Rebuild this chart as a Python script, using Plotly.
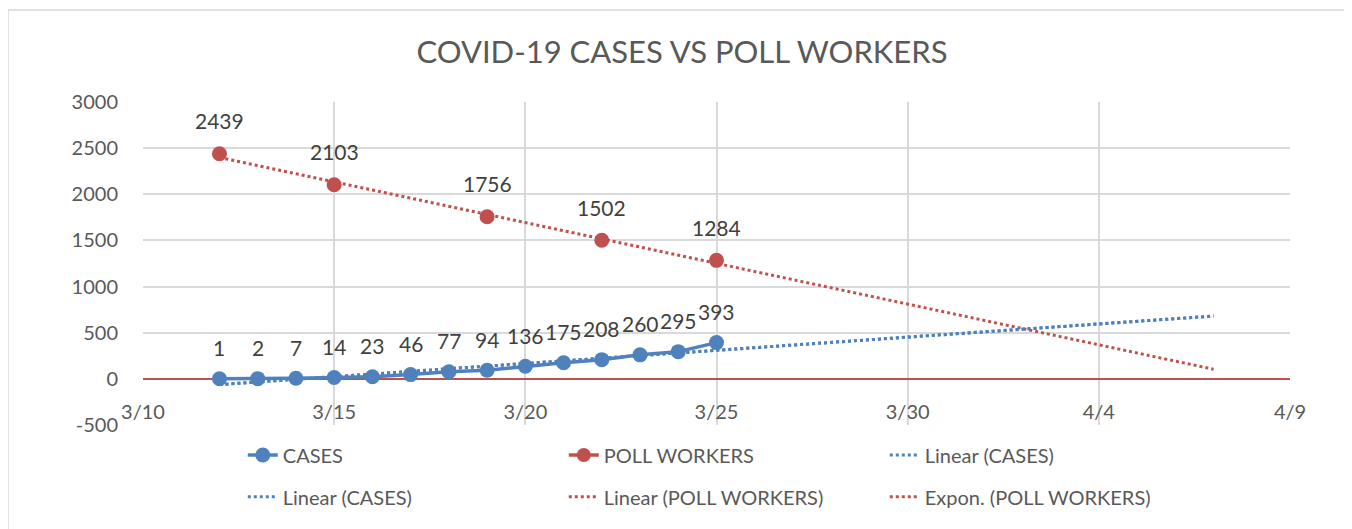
import numpy as np
import pandas as pd
import plotly.graph_objects as go

# ---- data ----
case_dates = pd.date_range("2020-03-12", "2020-03-25", freq="D")
cases = [1, 2, 7, 14, 23, 46, 77, 94, 136, 175, 208, 260, 295, 393]
poll_dates = pd.to_datetime(["2020-03-12", "2020-03-15", "2020-03-19", "2020-03-22", "2020-03-25"])
poll_workers = [2439, 2103, 1756, 1502, 1284]
forward_days = 13
y_ticks = [-500, 0, 500, 1000, 1500, 2000, 2500, 3000]
y_tick_text = ["-500", "0", "500", "1000", "1500", "2000", "2500", "3000"]

BLUE = "#4F81BD"
RED = "#C0504D"
GRAY = "#595959"
FONT = "Lato"

origin = pd.Timestamp("2020-03-12")


def linear_trend(dates, vals):
    d = np.array([(t - origin).days for t in dates], dtype=float)
    m, b = np.polyfit(d, np.array(vals, dtype=float), 1)
    x_end = d.max() + forward_days
    xs = [d.min(), x_end]
    return [origin + pd.Timedelta(days=v) for v in xs], [m * v + b for v in xs]


cx, cy = linear_trend(case_dates, cases)
px_, py_ = linear_trend(poll_dates, poll_workers)

fig = go.Figure()

# trendlines
fig.add_trace(go.Scatter(x=px_, y=py_, mode="lines", line=dict(color=RED, width=3, dash="dot"),
                         name="Linear (POLL WORKERS)", legend="legend2", legendrank=5))
fig.add_trace(go.Scatter(x=cx, y=cy, mode="lines", line=dict(color=BLUE, width=3, dash="dot"),
                         name="Linear (CASES)", legend="legend", legendrank=3))
fig.add_trace(go.Scatter(x=cx, y=cy, mode="lines", line=dict(color=BLUE, width=3, dash="dot"),
                         name="Linear (CASES)", legend="legend2", legendrank=4))
fig.add_trace(go.Scatter(x=[None], y=[None], mode="lines", line=dict(color=RED, width=3, dash="dot"),
                         name="Expon. (POLL WORKERS)", legend="legend2", legendrank=6))

# series
fig.add_trace(go.Scatter(x=case_dates, y=cases, mode="lines+markers",
                         line=dict(color=BLUE, width=3.5), marker=dict(size=15, color=BLUE),
                         name="CASES", legend="legend", legendrank=1))
fig.add_trace(go.Scatter(x=poll_dates, y=poll_workers, mode="markers",
                         marker=dict(size=15, color=RED), showlegend=False))
fig.add_trace(go.Scatter(x=[None], y=[None], mode="lines+markers",
                         line=dict(color=RED, width=3.5), marker=dict(size=14, color=RED),
                         name="POLL WORKERS", legend="legend", legendrank=2))

# data labels
anns = []
for x, y in zip(case_dates, cases):
    anns.append(dict(x=x, y=y, text=str(y), showarrow=False, yshift=31,
                     font=dict(size=21, color="#404040", family=FONT)))
for x, y in zip(poll_dates, poll_workers):
    anns.append(dict(x=x, y=y, text=str(y), showarrow=False, yshift=33,
                     font=dict(size=21, color="#404040", family=FONT)))

xr = ["2020-03-10", "2020-04-09"]
leg_common = dict(orientation="h", entrywidth=276, entrywidthmode="pixels",
                  font=dict(size=20, color=GRAY, family=FONT), bgcolor="rgba(0,0,0,0)",
                  xanchor="left", yanchor="middle", traceorder="normal")

# page body has an 8px margin, so the figure is 8px smaller than the window
W, H = 1344, 521
L, T, R, B = 135, 94, 62, 104
PW, PH = W - L - R, H - T - B

fig.update_layout(
    width=W, height=H,
    margin=dict(l=L, r=R, t=T, b=B),
    paper_bgcolor="white", plot_bgcolor="white",
    title=dict(text="COVID-19 CASES VS POLL WORKERS", x=(682 - 8) / W, xref="container", xanchor="center",
               y=1 - (52 - 8) / H, yref="container", yanchor="middle",
               font=dict(size=31, color=GRAY, family=FONT)),
    annotations=anns,
    xaxis=dict(type="date", range=xr, tick0="2020-03-10", dtick=5 * 86400000,
               showgrid=True, gridcolor="#D9D9D9", gridwidth=1.5, showticklabels=False,
               zeroline=False, showline=False),
    xaxis2=dict(type="date", range=xr, tick0="2020-03-10", dtick=5 * 86400000, tickformat="%-m/%-d",
                overlaying="x", anchor="free", position=500 / 3500, showgrid=False,
                ticks="outside", ticklen=15, tickcolor="rgba(0,0,0,0)",
                tickfont=dict(size=20, color=GRAY, family=FONT), showline=False, zeroline=False),
    yaxis=dict(range=[-500, 3000], tickvals=y_ticks, ticktext=y_tick_text, showgrid=True,
               gridcolor="#D9D9D9", gridwidth=1.5,
               zeroline=True, zerolinecolor=RED, zerolinewidth=1.5,
               ticks="outside", ticklen=20, tickcolor="rgba(0,0,0,0)",
               tickfont=dict(size=20, color=GRAY, family=FONT), showline=False),
    legend=dict(x=0.087, y=-0.093, **leg_common),
    legend2=dict(x=0.087, y=-0.222, **leg_common),
    showlegend=True,
    shapes=[dict(type="rect", xref="paper", yref="paper",
                 x0=(0 - L) / PW, x1=(1342 - L) / PW, y0=(T + PH - 540) / PH, y1=(T + PH - 2) / PH,
                 line=dict(color="#D9D9D9", width=1.5), layer="below")],
)
# dummy trace so xaxis2 is rendered
fig.add_trace(go.Scatter(x=[None], y=[None], xaxis="x2", showlegend=False, hoverinfo="skip"))

fig.write_html("out.html")
